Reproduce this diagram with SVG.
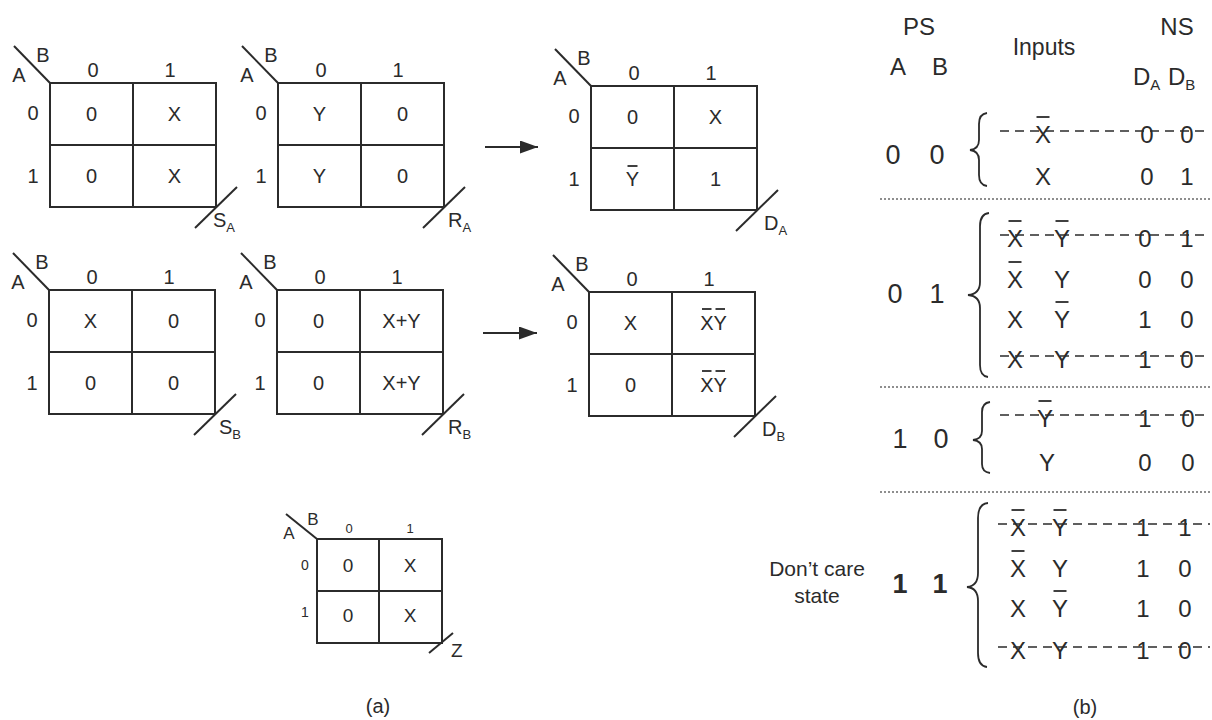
<svg xmlns="http://www.w3.org/2000/svg" width="1212" height="720" viewBox="0 0 1212 720">
<defs>
<style>
text{font-family:"Liberation Sans",Arial,Helvetica,sans-serif;fill:#2b2b2b;text-anchor:middle}
.k{font-size:20px}
.ks{font-size:13px}
.tb{font-size:24px}
.ps{font-size:27px}
.st{text-anchor:start}
.ln{stroke:#2b2b2b;stroke-width:2;fill:none}
.bar{stroke:#2b2b2b;stroke-width:1.8}
.strike{stroke:#2b2b2b;stroke-width:1.6;stroke-dasharray:9 6}
.sep{stroke:#6a6a6a;stroke-width:1.6;stroke-dasharray:2 2}
.br{stroke:#2b2b2b;stroke-width:1.8;fill:none}
</style>
<marker id="ah" markerUnits="userSpaceOnUse" markerWidth="18" markerHeight="13" refX="18" refY="6.5" orient="auto">
<path d="M0,0 L18,6.5 L0,13 z" fill="#2b2b2b"/>
</marker>
</defs>
<rect width="1212" height="720" fill="#ffffff"/>

<g id="kmap-SA">
<rect class="ln" x="50" y="83" width="166" height="124"/>
<line class="ln" x1="133" y1="83" x2="133" y2="207"/>
<line class="ln" x1="50" y1="145" x2="216" y2="145"/>
<line class="ln" x1="14" y1="46" x2="50" y2="83"/>
<text class="k" x="43" y="62">B</text><text class="k" x="19" y="82">A</text>
<text class="k" x="93" y="77">0</text><text class="k" x="170" y="77">1</text>
<text class="k" x="33" y="120">0</text><text class="k" x="33" y="183">1</text>
<text class="k" x="91.5" y="121">0</text><text class="k" x="174.5" y="121">X</text>
<text class="k" x="91.5" y="183">0</text><text class="k" x="174.5" y="183">X</text>
<line class="ln" x1="195" y1="228" x2="237" y2="187"/>
<text class="k st" x="213" y="227">S<tspan class="ks" dy="5">A</tspan></text>
</g>

<g id="kmap-RA">
<rect class="ln" x="278" y="83" width="166" height="124"/>
<line class="ln" x1="361" y1="83" x2="361" y2="207"/>
<line class="ln" x1="278" y1="145" x2="444" y2="145"/>
<line class="ln" x1="242" y1="46" x2="278" y2="83"/>
<text class="k" x="271" y="62">B</text><text class="k" x="247" y="82">A</text>
<text class="k" x="321" y="77">0</text><text class="k" x="398" y="77">1</text>
<text class="k" x="261" y="120">0</text><text class="k" x="261" y="183">1</text>
<text class="k" x="319.5" y="121">Y</text><text class="k" x="402.5" y="121">0</text>
<text class="k" x="319.5" y="183">Y</text><text class="k" x="402.5" y="183">0</text>
<line class="ln" x1="423" y1="228" x2="465" y2="187"/>
<text class="k st" x="448" y="227">R<tspan class="ks" dy="5">A</tspan></text>
</g>

<g id="kmap-DA">
<rect class="ln" x="591" y="86" width="166" height="124"/>
<line class="ln" x1="674" y1="86" x2="674" y2="210"/>
<line class="ln" x1="591" y1="148" x2="757" y2="148"/>
<line class="ln" x1="555" y1="49" x2="591" y2="86"/>
<text class="k" x="584" y="65">B</text><text class="k" x="560" y="85">A</text>
<text class="k" x="634" y="80">0</text><text class="k" x="711" y="80">1</text>
<text class="k" x="574" y="123">0</text><text class="k" x="574" y="186">1</text>
<text class="k" x="632.5" y="124">0</text><text class="k" x="715.5" y="124">X</text>
<text class="k" x="632.5" y="186">Y</text><line class="bar" x1="627.5" y1="166" x2="637.5" y2="166"/>
<text class="k" x="715.5" y="186">1</text>
<line class="ln" x1="736" y1="231" x2="778" y2="190"/>
<text class="k st" x="764" y="230">D<tspan class="ks" dy="5">A</tspan></text>
</g>

<g id="kmap-SB">
<rect class="ln" x="49" y="290" width="166" height="124"/>
<line class="ln" x1="132" y1="290" x2="132" y2="414"/>
<line class="ln" x1="49" y1="352" x2="215" y2="352"/>
<line class="ln" x1="13" y1="253" x2="49" y2="290"/>
<text class="k" x="42" y="269">B</text><text class="k" x="18" y="289">A</text>
<text class="k" x="92" y="284">0</text><text class="k" x="169" y="284">1</text>
<text class="k" x="32" y="327">0</text><text class="k" x="32" y="390">1</text>
<text class="k" x="90.5" y="328">X</text><text class="k" x="173.5" y="328">0</text>
<text class="k" x="90.5" y="390">0</text><text class="k" x="173.5" y="390">0</text>
<line class="ln" x1="194" y1="435" x2="236" y2="394"/>
<text class="k st" x="219" y="434">S<tspan class="ks" dy="5">B</tspan></text>
</g>

<g id="kmap-RB">
<rect class="ln" x="277" y="290" width="166" height="124"/>
<line class="ln" x1="360" y1="290" x2="360" y2="414"/>
<line class="ln" x1="277" y1="352" x2="443" y2="352"/>
<line class="ln" x1="241" y1="253" x2="277" y2="290"/>
<text class="k" x="270" y="269">B</text><text class="k" x="246" y="289">A</text>
<text class="k" x="320" y="284">0</text><text class="k" x="397" y="284">1</text>
<text class="k" x="260" y="327">0</text><text class="k" x="260" y="390">1</text>
<text class="k" x="318.5" y="328">0</text><text class="k" x="401.5" y="328">X+Y</text>
<text class="k" x="318.5" y="390">0</text><text class="k" x="401.5" y="390">X+Y</text>
<line class="ln" x1="422" y1="435" x2="464" y2="394"/>
<text class="k st" x="448" y="434">R<tspan class="ks" dy="5">B</tspan></text>
</g>

<g id="kmap-DB">
<rect class="ln" x="589" y="292" width="166" height="124"/>
<line class="ln" x1="672" y1="292" x2="672" y2="416"/>
<line class="ln" x1="589" y1="354" x2="755" y2="354"/>
<line class="ln" x1="553" y1="255" x2="589" y2="292"/>
<text class="k" x="582" y="271">B</text><text class="k" x="558" y="291">A</text>
<text class="k" x="632" y="286">0</text><text class="k" x="709" y="286">1</text>
<text class="k" x="572" y="329">0</text><text class="k" x="572" y="392">1</text>
<text class="k" x="630.5" y="330">X</text>
<text class="k" x="713.5" y="330">XY</text>
<line class="bar" x1="702" y1="309" x2="711.5" y2="309"/><line class="bar" x1="715.5" y1="309" x2="725" y2="309"/>
<text class="k" x="630.5" y="392">0</text>
<text class="k" x="713.5" y="392">XY</text>
<line class="bar" x1="702" y1="371" x2="711.5" y2="371"/><line class="bar" x1="715.5" y1="371" x2="725" y2="371"/>
<line class="ln" x1="734" y1="437" x2="776" y2="396"/>
<text class="k st" x="762" y="436">D<tspan class="ks" dy="5">B</tspan></text>
</g>

<g id="kmap-Z">
<rect class="ln" x="317" y="539" width="125" height="104"/>
<line class="ln" x1="379" y1="539" x2="379" y2="643"/>
<line class="ln" x1="317" y1="591" x2="442" y2="591"/>
<line class="ln" x1="286" y1="514" x2="317" y2="539"/>
<text x="313" y="525" style="font-size:17px">B</text><text x="289" y="539" style="font-size:17px">A</text>
<text x="349" y="533" style="font-size:13px">0</text><text x="410" y="533" style="font-size:13px">1</text>
<text x="305" y="570" style="font-size:14px">0</text><text x="305" y="617" style="font-size:14px">1</text>
<text x="348" y="572" style="font-size:19px">0</text><text x="410" y="572" style="font-size:19px">X</text>
<text x="348" y="622" style="font-size:19px">0</text><text x="410" y="622" style="font-size:19px">X</text>
<line class="ln" x1="429" y1="653" x2="453" y2="633"/>
<text class="st" x="451" y="657" style="font-size:19px">Z</text>
</g>

<g id="connectors">
<line class="ln" x1="485" y1="147" x2="538" y2="147" stroke-width="2.5" marker-end="url(#ah)"/>
<line class="ln" x1="483" y1="333" x2="537" y2="333" stroke-width="2.5" marker-end="url(#ah)"/>
</g>

<text id="caption-a" x="378" y="713" style="font-size:20px">(a)</text>

<g id="table-header">
<text class="tb" x="919" y="35">PS</text>
<text class="tb" x="898" y="75">A</text><text class="tb" x="940" y="75">B</text>
<text class="tb" x="1044" y="55" style="font-size:23px">Inputs</text>
<text class="tb" x="1177" y="35">NS</text>
<text class="tb st" x="1133" y="85">D<tspan style="font-size:15px" dy="5">A</tspan></text>
<text class="tb st" x="1168" y="85">D<tspan style="font-size:15px" dy="5">B</tspan></text>
</g>

<g id="row-00">
<text class="ps" x="893" y="164">0</text><text class="ps" x="937" y="164">0</text>
<path class="br" d="M987,113 Q979,114 979,124 L979,140 Q979,149 970,150 Q979,151 979,160 L979,175 Q979,185 987,186"/>
<line class="strike" x1="1000" y1="131" x2="1210" y2="131"/>
<text class="tb" x="1043" y="143">X</text><line class="bar" x1="1036.5" y1="117" x2="1049.5" y2="117"/>
<text class="tb" x="1147" y="143">0</text><text class="tb" x="1187" y="143">0</text>
<text class="tb" x="1043" y="185">X</text><text class="tb" x="1147" y="185">0</text><text class="tb" x="1187" y="185">1</text>
</g>
<line class="sep" x1="880" y1="199" x2="1212" y2="199"/>

<g id="row-01">
<text class="ps" x="895" y="303">0</text><text class="ps" x="937" y="303">1</text>
<path class="br" d="M989,213 Q980,214 980,226 L980,282 Q980,294 968,295 Q980,296 980,308 L980,365 Q980,376 988,377"/>
<line class="strike" x1="1000" y1="235" x2="1210" y2="235"/>
<text class="tb" x="1015" y="247">X</text><line class="bar" x1="1008.5" y1="221" x2="1021.5" y2="221"/>
<text class="tb" x="1062" y="247">Y</text><line class="bar" x1="1055.5" y1="221" x2="1068.5" y2="221"/>
<text class="tb" x="1145" y="247">0</text><text class="tb" x="1187" y="247">1</text>
<text class="tb" x="1015" y="288">X</text><line class="bar" x1="1008.5" y1="262" x2="1021.5" y2="262"/>
<text class="tb" x="1062" y="288">Y</text>
<text class="tb" x="1145" y="288">0</text><text class="tb" x="1187" y="288">0</text>
<text class="tb" x="1015" y="328">X</text>
<text class="tb" x="1062" y="328">Y</text><line class="bar" x1="1055.5" y1="302" x2="1068.5" y2="302"/>
<text class="tb" x="1145" y="328">1</text><text class="tb" x="1187" y="328">0</text>
<line class="strike" x1="1000" y1="356" x2="1210" y2="356"/>
<text class="tb" x="1015" y="368">X</text><text class="tb" x="1062" y="368">Y</text>
<text class="tb" x="1145" y="368">1</text><text class="tb" x="1187" y="368">0</text>
</g>
<line class="sep" x1="880" y1="387" x2="1212" y2="387"/>

<g id="row-10">
<text class="ps" x="900" y="448">1</text><text class="ps" x="941" y="448">0</text>
<path class="br" d="M990,402 Q982,403 982,412 L982,431 Q982,439 973,440 Q982,441 982,449 L982,464 Q982,472 990,473"/>
<line class="strike" x1="1000" y1="415" x2="1210" y2="415"/>
<text class="tb" x="1045" y="427">Y</text><line class="bar" x1="1038.5" y1="401" x2="1051.5" y2="401"/>
<text class="tb" x="1145" y="427">1</text><text class="tb" x="1188" y="427">0</text>
<text class="tb" x="1047" y="471">Y</text><text class="tb" x="1145" y="471">0</text><text class="tb" x="1188" y="471">0</text>
</g>
<line class="sep" x1="880" y1="492" x2="1212" y2="492"/>

<g id="row-11">
<text x="817" y="576" style="font-size:21px">Don’t care</text>
<text x="817" y="603" style="font-size:21px">state</text>
<text class="ps" x="900" y="593" style="font-weight:bold">1</text><text class="ps" x="940" y="593" style="font-weight:bold">1</text>
<path class="br" d="M988,503 Q978,504 978,518 L978,573 Q978,586 967,587 Q978,588 978,601 L978,653 Q978,666 987,667"/>
<line class="strike" x1="998" y1="524" x2="1210" y2="524"/>
<text class="tb" x="1018" y="536">X</text><line class="bar" x1="1011.5" y1="510" x2="1024.5" y2="510"/>
<text class="tb" x="1060" y="536">Y</text><line class="bar" x1="1053.5" y1="510" x2="1066.5" y2="510"/>
<text class="tb" x="1143" y="536">1</text><text class="tb" x="1185" y="536">1</text>
<text class="tb" x="1018" y="577">X</text><line class="bar" x1="1011.5" y1="551" x2="1024.5" y2="551"/>
<text class="tb" x="1060" y="577">Y</text>
<text class="tb" x="1143" y="577">1</text><text class="tb" x="1185" y="577">0</text>
<text class="tb" x="1018" y="617">X</text>
<text class="tb" x="1060" y="617">Y</text><line class="bar" x1="1053.5" y1="591" x2="1066.5" y2="591"/>
<text class="tb" x="1143" y="617">1</text><text class="tb" x="1185" y="617">0</text>
<line class="strike" x1="998" y1="647" x2="1210" y2="647"/>
<text class="tb" x="1018" y="659">X</text><text class="tb" x="1060" y="659">Y</text>
<text class="tb" x="1143" y="659">1</text><text class="tb" x="1185" y="659">0</text>
</g>

<text id="caption-b" x="1085" y="714" style="font-size:20px">(b)</text>
</svg>
